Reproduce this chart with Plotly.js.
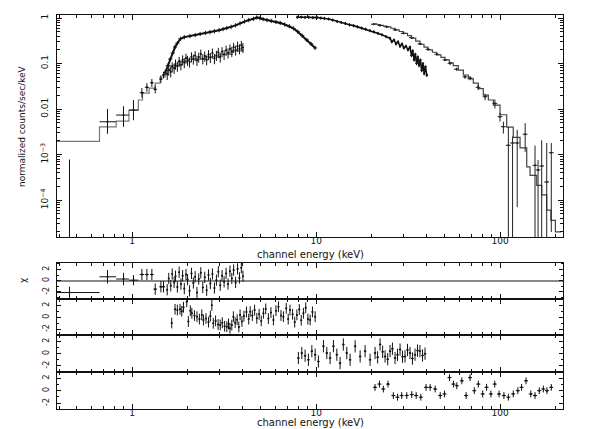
<!DOCTYPE html>
<html>
<head>
<meta charset="utf-8">
<script src="https://cdn.plot.ly/plotly-3.0.1.min.js"></script>
<style>
  body { margin: 0; background: #fff; }
  #chart { width: 597px; height: 429px; }
</style>
</head>
<body>
<div id="chart"></div>
<script>
// ---- spectrum data (energy in keV, normalized counts/sec/keV) ----

// instrument A, low energy bins
var aLowE   = [0.456, 0.734, 0.897, 1.016, 1.129, 1.202, 1.279, 1.334, 1.432, 1.480];
var aLowY   = [1e-5, 5.26e-3, 7.38e-3, 9.5e-3, 0.0229, 0.0300, 0.0377, 0.0271, 0.0455, 0.056];
var aLowUp  = [7.7e-4, 4.8e-3, 4.2e-3, 6.3e-3, 0.006, 0.007, 0.008, 0.006, 0.009, 0.010];
var aLowDn  = [0.99e-5, 2.4e-3, 3.3e-3, 3.8e-3, 0.005, 0.006, 0.007, 0.005, 0.008, 0.009];
var aLowXm  = [0.066, 0.070, 0.079, 0.056, 0.03, 0.03, 0.03, 0.03, 0.03, 0.03];
var aLowXp  = [0.208, 0.084, 0.063, 0.064, 0.03, 0.03, 0.03, 0.03, 0.03, 0.03];
var aLowRes = [-2.1, 0.7, 0.3, 0.1, 1.1, 1.1, 1.1, -1.5, -1.07, -1.07];
var aLowResUp = [1.05, 1.2, 1.1, 0.9, 1.0, 1.0, 1.0, 1.0, 1.0, 1.0];
var aLowResDn = [1.5, 1.2, 1.1, 0.9, 1.0, 1.0, 1.0, 1.0, 1.0, 1.0];

// instrument A, dense part
var aE = [1.55, 1.58, 1.62, 1.65, 1.69, 1.72, 1.76, 1.80, 1.84, 1.88,
          1.92, 1.96, 2.00, 2.05, 2.10, 2.15, 2.20, 2.25, 2.30, 2.36,
          2.42, 2.48, 2.54, 2.60, 2.66, 2.73, 2.80, 2.87, 2.94, 3.01,
          3.08, 3.16, 3.24, 3.32, 3.40, 3.48, 3.56, 3.65, 3.74, 3.83,
          3.92, 4.00];
var aY = [0.058, 0.072, 0.066, 0.085, 0.079, 0.098, 0.088, 0.112, 0.094, 0.121,
          0.105, 0.132, 0.118, 0.109, 0.141, 0.126, 0.150, 0.118, 0.139, 0.162,
          0.128, 0.147, 0.121, 0.158, 0.136, 0.171, 0.129, 0.152, 0.176, 0.140,
          0.183, 0.158, 0.197, 0.172, 0.210, 0.186, 0.228, 0.199, 0.241, 0.212,
          0.252, 0.226];
var aRes = [-1.6, 0.4, -0.9, 1.2, -0.3, 0.8, -1.1, 1.5, -0.6, 0.9,
            -1.4, 1.1, 0.2, -1.8, 1.3, -0.4, 0.7, -2.1, 0.3, 1.4,
            -1.2, 0.6, -1.7, 1.0, -0.5, 1.2, -1.3, 0.1, 1.6, -0.8,
            0.9, -0.2, 1.3, -0.6, 1.7, 0.4, 1.9, -0.3, 2.1, 0.5,
            2.3, 0.8];

// instrument A model (bin left edges)
var aModelE = [0.39, 0.664, 0.818, 0.96, 1.08, 1.138, 1.237, 1.334, 1.42, 1.51, 1.61, 1.8, 2.0, 2.5, 3.0, 3.5, 4.0];
var aModel  = [1.95e-3, 4.08e-3, 5.44e-3, 9.5e-3, 0.0158, 0.0225, 0.0289, 0.0373, 0.0506, 0.072, 0.09, 0.11, 0.125, 0.14, 0.16, 0.19, 0.21];

// instrument B
var bE = [1.51, 1.56, 1.61, 1.66, 1.71, 1.76, 1.83, 1.92, 2.06, 2.20,
          2.34, 2.50, 2.65, 2.80, 2.97, 3.12, 3.27, 3.45, 3.65, 3.86,
          4.08, 4.30, 4.56, 4.76, 4.95, 5.15, 5.40, 5.70, 6.05, 6.38,
          6.75, 7.15, 7.53, 7.95, 8.40, 8.90, 9.40, 9.88];
var bY = [0.062, 0.09, 0.125, 0.17, 0.23, 0.28, 0.35, 0.38, 0.40, 0.42,
          0.445, 0.47, 0.49, 0.51, 0.54, 0.57, 0.60, 0.64, 0.69, 0.76,
          0.84, 0.90, 0.96, 1.03, 0.99, 0.94, 0.90, 0.86, 0.82, 0.78,
          0.72, 0.66, 0.59, 0.50, 0.41, 0.33, 0.27, 0.22];
var bResE = [1.64, 1.71, 1.76, 1.82, 1.86, 1.90, 1.98, 2.02, 2.07, 2.11,
             2.18, 2.25, 2.32, 2.39, 2.44, 2.52, 2.60, 2.66, 2.71, 2.76,
             2.84, 2.93, 3.01, 3.09, 3.18, 3.27, 3.34, 3.40, 3.48, 3.55,
             3.63, 3.72, 3.80, 3.86, 3.95, 4.05, 4.18, 4.30, 4.38, 4.50,
             4.63, 4.76, 4.90, 5.03, 5.17, 5.32, 5.50, 5.68, 5.86, 6.05,
             6.24, 6.44, 6.64, 6.88, 7.05, 7.21, 7.45, 7.65, 7.86, 8.10,
             8.30, 8.53, 8.78, 9.02, 9.28, 9.55, 9.88];
var bRes = [-0.95, 1.33, 1.2, 1.33, 1.0, 1.67, 2.6, -0.7, 1.1, 0.67,
            0.3, 0.1, -0.3, 0.4, -0.45, -0.2, -0.8, 0.2, 2.0, -1.0,
            -0.6, -1.2, -1.28, -0.9, -1.5, -1.56, -1.1, -1.83, -1.3, 0.1,
            -0.9, -0.4, -1.6, 0.4, -0.7, 0.2, 0.9, -0.3, 0.94, 0.3,
            1.2, -0.17, 0.5, -0.6, 0.67, 1.4, -0.2, 0.8, -0.45, 1.1,
            1.77, 0.3, 0.1, 1.5, -0.3, 1.2, 0.5, -0.8, 0.4, 1.3,
            -0.5, 0.67, 1.6, -0.3, -0.45, 0.9, 0.1];

// instrument C
var cE = [7.9, 8.3, 8.7, 9.1, 9.6, 10.1, 10.6, 11.1, 11.7, 12.3,
          13.0, 13.7, 14.4, 15.2, 16.0, 16.8, 17.7, 18.6, 19.6, 20.6,
          21.7, 22.8, 24.0, 25.2, 25.8, 26.5, 27.2, 27.9, 28.6, 29.3,
          30.0, 30.8, 31.6, 32.4, 33.0, 33.5, 34.1, 34.6, 35.2, 35.7,
          36.3, 36.9, 37.5, 38.1, 38.7, 39.3, 40.0];
var cY = [1.04, 1.05, 1.03, 1.04, 1.02, 1.03, 1.00, 0.98, 0.95, 0.90,
          0.84, 0.80, 0.76, 0.71, 0.68, 0.64, 0.60, 0.57, 0.53, 0.50,
          0.46, 0.43, 0.39, 0.36, 0.30, 0.33, 0.27, 0.30, 0.24, 0.27,
          0.22, 0.24, 0.20, 0.23, 0.15, 0.19, 0.12, 0.16, 0.10, 0.14,
          0.09, 0.12, 0.07, 0.10, 0.06, 0.085, 0.055];
var cResE = [8.01, 8.36, 8.71, 9.08, 9.48, 9.88, 10.29, 10.96, 11.43, 11.91,
             12.42, 12.96, 13.50, 14.06, 14.68, 15.30, 16.30, 17.35, 18.46, 19.65,
             20.92, 21.6, 22.27, 23.0, 23.71, 24.5, 25.24, 26.0, 26.87, 27.7,
             28.6, 29.5, 30.45, 31.4, 32.4, 33.4, 34.5, 35.6, 36.7, 37.9,
             39.1];
var cRes = [-0.72, 0.1, -0.33, -1.0, 0.4, -0.17, -1.28, 1.22, 0.1, -0.72,
            1.22, -0.17, -1.55, 1.5, 0.1, -1.0, 1.2, -0.45, 0.4, -1.0,
            0.1, -0.6, 1.5, 0.3, -0.45, -0.9, 0.4, 0.8, -0.72, -0.2,
            0.67, -0.5, -0.45, 0.6, 0.1, -0.8, -0.17, 0.5, 0.4, -0.3,
            0];

// instrument D
var dE  = [20.5, 22.3, 24.2, 26.9, 29.8, 33.0, 36.7, 40.6, 45.3, 50.2,
           53.5, 58, 64.5, 68.8, 76, 83, 93.8, 100, 104.3, 111,
           117, 124, 137, 155, 161, 168.5, 179.4, 190];
var dY  = [0.73, 0.685, 0.64, 0.55, 0.46, 0.37, 0.27, 0.205, 0.16, 0.12,
           0.101, 0.075, 0.051, 0.048, 0.030, 0.0187, 0.0133, 0.0068, 0.0041, 1.6e-3,
           1.8e-3, 1.8e-3, 2.8e-3, 5.8e-4, 4.6e-4, 5.6e-4, 2.5e-4, 1.1e-3];
var dUp = [0.03, 0.03, 0.03, 0.025, 0.02, 0.017, 0.014, 0.011, 0.009, 0.007,
           0.008, 0.006, 0.005, 0.005, 0.004, 0.003, 0.003, 0.0015, 0.0012, 2.5e-3,
           0.7e-3, 1.7e-3, 2.1e-3, 1.0e-3, 3.0e-4, 1.5e-3, 1.55e-3, 0.7e-3];
var dDn = [0.03, 0.03, 0.03, 0.025, 0.02, 0.017, 0.014, 0.011, 0.009, 0.007,
           0.008, 0.006, 0.005, 0.005, 0.004, 0.003, 0.003, 0.0015, 0.0012, 1.599e-3,
           1.799e-3, 1.73e-3, 1.65e-3, 5.79e-4, 4.59e-4, 5.59e-4, 2.49e-4, 1.08e-3];
var dModelE = [20.5, 21.4, 22.3, 23.2, 24.2, 25.5, 26.9, 28.3, 29.8, 31.4,
               33.0, 34.8, 36.7, 38.6, 40.6, 42.9, 45.3, 47.7, 50.2, 53.0,
               55.7, 59.3, 63.2, 67.3, 71.6, 76.2, 81.1, 86.4, 92, 100,
               108.7, 118, 128.5, 139.7, 145.6, 158.3, 168.5, 179.4, 189, 200,
               215];
var dModel  = [0.74, 0.72, 0.69, 0.665, 0.64, 0.595, 0.55, 0.505, 0.46, 0.41,
               0.36, 0.31, 0.265, 0.23, 0.20, 0.177, 0.155, 0.137, 0.12, 0.104,
               0.09, 0.072, 0.056, 0.046, 0.037, 0.028, 0.0203, 0.0158, 0.0122, 0.0075,
               0.0040, 0.0024, 0.0014, 5.4e-4, 3.5e-4, 2.1e-4, 1.3e-4, 6e-5, 3.6e-5, 2.0e-5,
               2.0e-5];
var dResE = [20.9, 22.1, 23.2, 24.6, 26.3, 27.7, 29.2, 31.1, 33.1, 35.0,
             37.1, 39.6, 41.7, 44.4, 47.3, 49.9, 53.1, 55.8, 58.2, 62.0,
             65.4, 68.7, 72.5, 76.2, 80.5, 84.5, 89.2, 93.6, 98.8, 105,
             111, 118, 125, 131, 138.5, 147, 155, 163.5, 172, 180,
             190];
var dRes = [0.53, 1.05, 0.26, 1.05, -0.79, -1.05, -0.79, -0.79, -0.63, -0.79,
            -1.05, 0.53, 0.53, 0.26, -0.79, -0.53, 2.1, 1.05, 0.79, 1.58,
            -0.79, 2.1, 0, 1.05, -0.53, 0.53, -0.53, 1.05, -0.53, -0.79,
            -1.05, -0.53, 0, 0.53, 1.58, -0.53, -0.79, 0, 0.26, 0,
            0.53];

// ---- styling helpers ----
var FONT = 'DejaVu Sans';
var INK = '#111';

function cross(x, y, xa, ya, ey, ex, color) {
  return {
    x: x, y: y, xaxis: xa, yaxis: ya, type: 'scatter', mode: 'markers',
    marker: { size: 2, color: color || INK },
    error_y: Object.assign({ width: 0, thickness: 1, color: color || INK }, ey),
    error_x: Object.assign({ width: 0, thickness: 1, color: color || INK }, ex),
    showlegend: false, hoverinfo: 'skip'
  };
}

var traces = [
  { x: aModelE, y: aModel, xaxis: 'x', yaxis: 'y', mode: 'lines',
    line: { shape: 'hv', color: '#777', width: 1.2 }, showlegend: false },
  cross(aLowE, aLowY, 'x', 'y',
    { type: 'data', symmetric: false, array: aLowUp, arrayminus: aLowDn },
    { type: 'data', symmetric: false, array: aLowXp, arrayminus: aLowXm }),
  cross(aE, aY, 'x', 'y', { type: 'percent', value: 25 }, { type: 'percent', value: 1 }),
  { x: bE, y: bY, xaxis: 'x', yaxis: 'y', mode: 'lines+markers',
    line: { color: INK, width: 2 }, marker: { size: 3, symbol: 'cross-thin', line: { width: 1, color: INK } },
    showlegend: false },
  Object.assign(cross(cE, cY, 'x', 'y', { type: 'percent', value: 8 }, { type: 'percent', value: 1.5 }),
    { mode: 'lines+markers', line: { color: INK, width: 1.6 } }),
  { x: dModelE, y: dModel, xaxis: 'x', yaxis: 'y', mode: 'lines',
    line: { shape: 'hv', color: '#444', width: 1.2 }, showlegend: false },
  cross(dE, dY, 'x', 'y',
    { type: 'data', symmetric: false, array: dUp, arrayminus: dDn },
    { type: 'percent', value: 3 }, '#222'),

  // residual panels
  cross(aLowE, aLowRes, 'x2', 'y2',
    { type: 'data', symmetric: false, array: aLowResUp, arrayminus: aLowResDn },
    { type: 'data', symmetric: false, array: aLowXp, arrayminus: aLowXm }),
  cross(aE, aRes, 'x2', 'y2', { type: 'constant', value: 1 }, { type: 'percent', value: 1 }),
  cross(bResE, bRes, 'x3', 'y3', { type: 'constant', value: 0.9 }, { type: 'percent', value: 1 }),
  cross(cResE, cRes, 'x4', 'y4', { type: 'constant', value: 1 }, { type: 'percent', value: 1.5 }),
  cross(dResE, dRes, 'x5', 'y5', { type: 'constant', value: 0.55 }, { type: 'percent', value: 2.5 })
];

// ---- layout ----
var W = 597, H = 429;
var xDom = [57 / W, 563 / W];
function yDom(top, bottom) { return [1 - bottom / H, 1 - top / H]; }

var minorX = [];
[0.1, 1, 10, 100].forEach(function (d) {
  for (var k = 2; k <= 9; k++) minorX.push(d * k);
});
var minorY = [];
[1e-5, 1e-4, 1e-3, 1e-2, 1e-1, 1].forEach(function (d) {
  for (var k = 2; k <= 9; k++) minorY.push(d * k);
});

function xAxis(anchor, labels) {
  return {
    domain: xDom, anchor: anchor, type: 'log',
    range: [Math.log10(0.39), Math.log10(220)],
    tickvals: [1, 10, 100], ticktext: ['1', '10', '100'],
    showticklabels: labels, ticklabelstandoff: -5,
    ticks: 'inside', ticklen: 5, tickcolor: INK,
    minor: { tickvals: minorX, ticks: 'inside', ticklen: 3, tickcolor: INK },
    mirror: 'allticks', showline: true, linecolor: INK, linewidth: 1,
    showgrid: false, zeroline: false,
    tickfont: { family: FONT, size: 9, color: INK }
  };
}
function resAxis(anchor, dom, range, zero) {
  return {
    domain: dom, anchor: anchor, range: range,
    tickvals: [-2, 0, 2], ticktext: ['-2', '0', '2'], tickangle: -90,
    ticks: 'inside', ticklen: 4, tickcolor: INK,
    minor: { tickvals: [-3, -1, 1, 3], ticks: 'inside', ticklen: 2, tickcolor: INK },
    mirror: 'allticks', showline: true, linecolor: INK, linewidth: 1,
    showgrid: false, zeroline: zero, zerolinecolor: '#888', zerolinewidth: 2,
    ticklabelstandoff: 4,
    tickfont: { family: FONT, size: 8, color: INK }
  };
}

function label(text, px, py, angle, size) {
  return { text: text, xref: 'paper', yref: 'paper', x: px / W, y: 1 - py / H,
    xanchor: 'center', yanchor: 'middle', textangle: angle, showarrow: false,
    font: { family: FONT, size: size, color: INK } };
}

var layout = {
  width: W, height: H,
  margin: { l: 0, r: 0, t: 0, b: 0 },
  paper_bgcolor: '#fff', plot_bgcolor: '#fff',
  font: { family: FONT, size: 9, color: INK },
  showlegend: false,
  xaxis: xAxis('y', true),
  yaxis: {
    domain: yDom(15, 237), type: 'log', range: [-4.81, 0.066],
    tickvals: [1e-4, 1e-3, 0.01, 0.1, 1],
    ticktext: ['10<sup>−4</sup>', '10<sup>−3</sup>', '0.01', '0.1', '1'],
    tickangle: -90, ticklabelstandoff: 4,
    ticks: 'inside', ticklen: 5, tickcolor: INK,
    minor: { tickvals: minorY, ticks: 'inside', ticklen: 3, tickcolor: INK },
    mirror: 'allticks', showline: true, linecolor: INK, linewidth: 1,
    showgrid: false, zeroline: false,
    tickfont: { family: FONT, size: 9, color: INK }
  },
  xaxis2: xAxis('y2', false),
  xaxis3: xAxis('y3', false),
  xaxis4: xAxis('y4', false),
  xaxis5: xAxis('y5', true),
  yaxis2: resAxis('x2', yDom(262.7, 299.3), [-3.3, 3.2], true),
  yaxis3: resAxis('x3', yDom(299.3, 335.3), [-3, 3], false),
  yaxis4: resAxis('x4', yDom(335.3, 372), [-3, 3], false),
  yaxis5: resAxis('x5', yDom(372, 409.3), [-3, 3], false),
  annotations: [
    label('normalized counts/sec/keV', 22, 126, -90, 9),
    label('χ', 23, 281, -90, 9),
    label('channel energy (keV)', 310, 254, 0, 10),
    label('channel energy (keV)', 310, 422, 0, 10)
  ]
};

Plotly.newPlot('chart', traces, layout, { staticPlot: true });
</script>
</body>
</html>
